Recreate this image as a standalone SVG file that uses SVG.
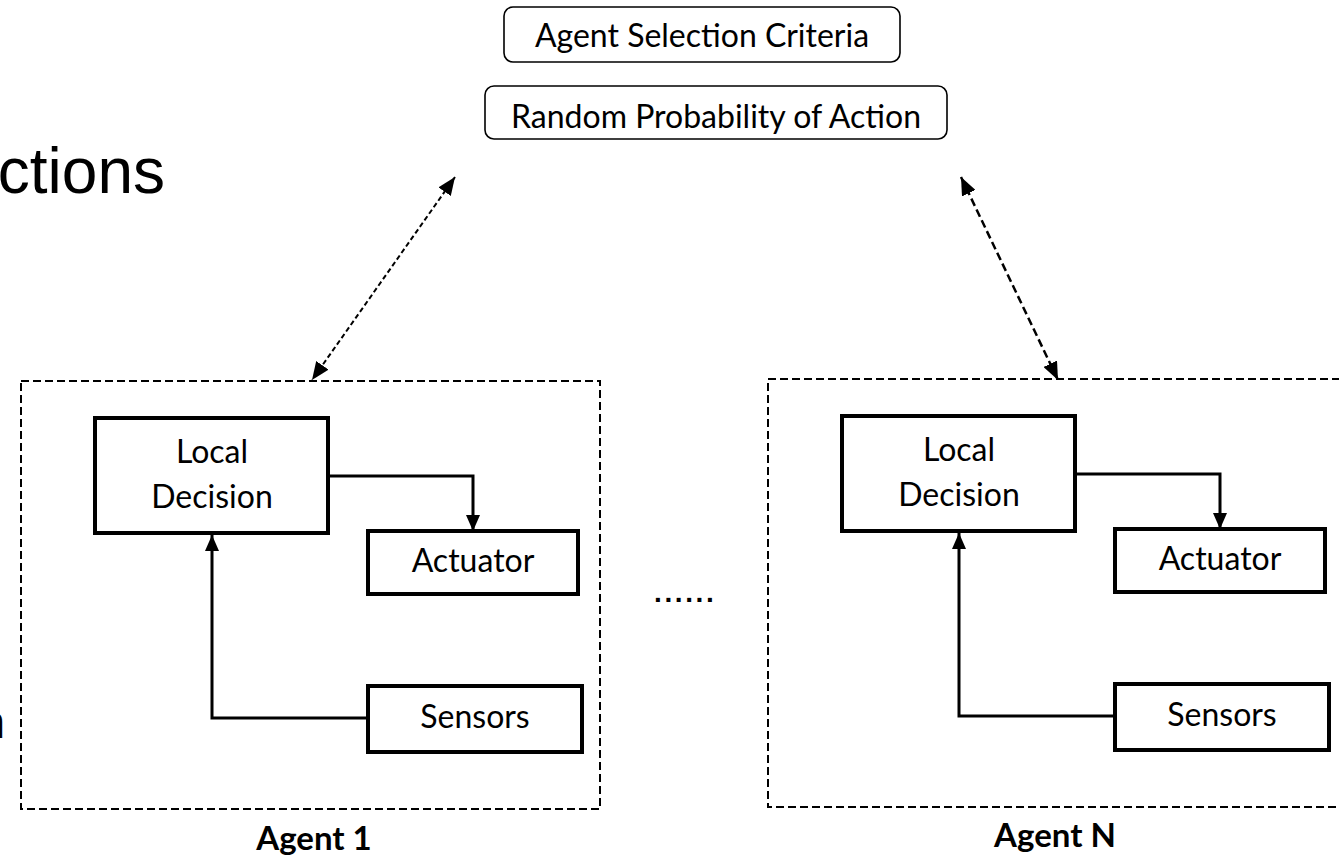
<svg xmlns="http://www.w3.org/2000/svg" width="1339" height="856" viewBox="0 0 1339 856">
<style>
.bg{fill:#ffffff}
.crit{fill:#ffffff;stroke:#000;stroke-width:1.6}
.agent{fill:none;stroke:#000;stroke-width:2;stroke-dasharray:8 4}
.blk{fill:#ffffff;stroke:#000;stroke-width:4}
.conn{fill:none;stroke:#000;stroke-width:3}
.dl{fill:none;stroke:#000;stroke-width:2;stroke-dasharray:5 3}
.dr{fill:none;stroke:#000;stroke-width:2.5;stroke-dasharray:8 4}
.t{font-family:Lato,"Liberation Sans",sans-serif;font-size:32px;fill:#000;text-anchor:middle}
.tb{font-family:Lato,"Liberation Sans",sans-serif;font-size:33px;font-weight:bold;fill:#000;text-anchor:middle}
.big{font-family:"Liberation Sans",Arial,sans-serif;fill:#000;text-anchor:end}
</style>
<defs>
<marker id="ah" markerUnits="userSpaceOnUse" markerWidth="16" markerHeight="14" viewBox="0 0 16 14" refX="16" refY="7" orient="auto-start-reverse">
<path d="M0,0 L16,7 L0,14 z" fill="#000"/>
</marker>
<marker id="ad" markerUnits="userSpaceOnUse" markerWidth="18" markerHeight="15" viewBox="0 0 18 15" refX="18" refY="7.5" orient="auto-start-reverse">
<path d="M0,0 L18,7.5 L0,15 z" fill="#000"/>
</marker>
</defs>
<rect class="bg" x="0" y="0" width="1339" height="856"/>

<g id="fragments">
<text class="big" x="165" y="193" font-size="64">ctions</text>
<text class="big" x="5" y="738" font-size="46">n</text>
<text x="654" y="602" font-family="Liberation Sans, sans-serif" font-size="28" font-weight="bold" letter-spacing="2.6">......</text>
</g>

<g id="criteria">
<rect class="crit" x="504" y="7" width="396" height="55" rx="9"/>
<text class="t" x="702" y="47">Agent Selection Criteria</text>
</g>
<g id="probability">
<rect class="crit" x="485" y="86" width="462" height="53" rx="9"/>
<text class="t" x="716" y="128">Random Probability of Action</text>
</g>

<g id="agent1">
<rect class="agent" x="21" y="381" width="579" height="428"/>
<text class="tb" x="314" y="850">Agent 1</text>
</g>
<g id="agent1-decision">
<rect class="blk" x="95" y="418" width="233" height="115"/>
<text class="t" x="212" y="463">Local</text>
<text class="t" x="212" y="508">Decision</text>
</g>
<g id="agent1-actuator">
<rect class="blk" x="368" y="531" width="210" height="63"/>
<text class="t" x="473" y="572">Actuator</text>
</g>
<g id="agent1-sensors">
<rect class="blk" x="368" y="686" width="214" height="66"/>
<text class="t" x="475" y="728">Sensors</text>
</g>

<g id="agentN">
<rect class="agent" x="768" y="379" width="580" height="428"/>
<text class="tb" x="1055" y="847">Agent N</text>
</g>
<g id="agentN-decision">
<rect class="blk" x="842" y="416" width="233" height="115"/>
<text class="t" x="959" y="461">Local</text>
<text class="t" x="959" y="506">Decision</text>
</g>
<g id="agentN-actuator">
<rect class="blk" x="1115" y="529" width="210" height="63"/>
<text class="t" x="1220" y="570">Actuator</text>
</g>
<g id="agentN-sensors">
<rect class="blk" x="1115" y="684" width="214" height="66"/>
<text class="t" x="1222" y="726">Sensors</text>
</g>

<g id="connectors">
<path class="conn" d="M328,476 H473 V531" marker-end="url(#ah)"/>
<path class="conn" d="M368,718 H212 V535" marker-end="url(#ah)"/>
<path class="conn" d="M1075,474 H1220 V529" marker-end="url(#ah)"/>
<path class="conn" d="M1115,716 H959 V533" marker-end="url(#ah)"/>
<path class="dl" d="M455,177 L312,380" marker-start="url(#ad)" marker-end="url(#ad)"/>
<path class="dr" d="M961,177 L1058,380" marker-start="url(#ad)" marker-end="url(#ad)"/>
</g>
</svg>
